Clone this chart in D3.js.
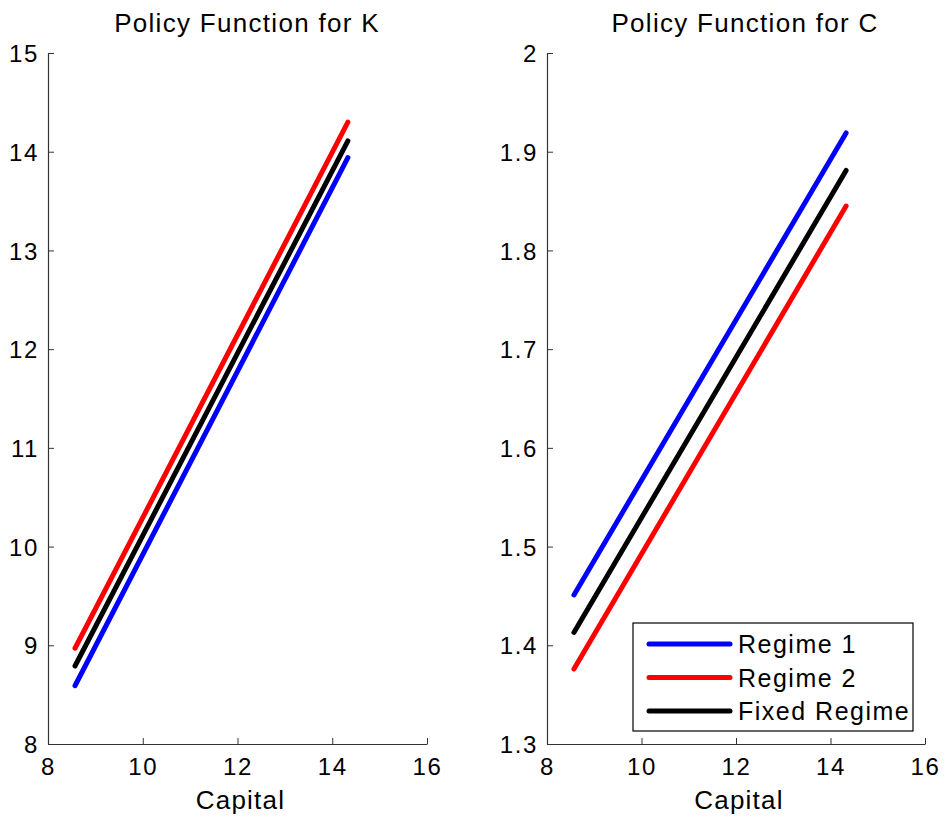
<!DOCTYPE html>
<html>
<head>
<meta charset="utf-8">
<script src="https://cdn.jsdelivr.net/npm/d3@7"></script>
<style>
  body { margin: 0; background: #fff; }
  svg text { font-family: "Liberation Sans", Arial, sans-serif; fill: #000; }
</style>
</head>
<body>
<div id="chart"></div>
<script>
// values
var capital = [8.57, 14.33];
var kRegime1 = [8.59, 13.94];
var kRegime2 = [8.97, 14.30];
var kFixed = [8.79, 14.11];
var cRegime1 = [1.451, 1.919];
var cRegime2 = [1.376, 1.845];
var cFixed = [1.413, 1.881];

var xTicks = [8, 10, 12, 14, 16];
var kTicks = [8, 9, 10, 11, 12, 13, 14, 15];
var cTicks = [1.3, 1.4, 1.5, 1.6, 1.7, 1.8, 1.9, 2];
var seriesNames = ['Regime 1', 'Regime 2', 'Fixed Regime'];
var seriesColors = ['#0000ff', '#ff0000', '#000000'];

var W = 947, H = 821;
var plotTop = 53, plotBottom = 744;

var svg = d3.select('#chart').append('svg').attr('width', W).attr('height', H);

var panels = [
  { title: 'Policy Function for K', left: 48, right: 427, titleX: 247,
    yDomain: [8, 15], yTicks: kTicks, fmt: d3.format('d'),
    series: [kRegime1, kRegime2, kFixed], legend: false },
  { title: 'Policy Function for C', left: 547, right: 925, titleX: 745,
    yDomain: [1.3, 2], yTicks: cTicks, fmt: function(d){ return d === 2 ? '2' : d3.format('.1f')(d); },
    series: [cRegime1, cRegime2, cFixed], legend: true }
];

panels.forEach(function(p){
  var x = d3.scaleLinear().domain([8, 16]).range([p.left, p.right]);
  var y = d3.scaleLinear().domain(p.yDomain).range([plotBottom, plotTop]);
  var g = svg.append('g');

  var xAxis = g.append('g')
    .attr('transform', 'translate(0,' + plotBottom + ')')
    .call(d3.axisBottom(x).tickValues(xTicks).tickSizeInner(-6).tickSizeOuter(0).tickPadding(16));
  var yAxis = g.append('g')
    .attr('transform', 'translate(' + p.left + ',0)')
    .call(d3.axisLeft(y).tickValues(p.yTicks).tickFormat(p.fmt).tickSizeInner(-6).tickSizeOuter(0).tickPadding(9));

  [xAxis, yAxis].forEach(function(a){
    a.select('.domain').attr('stroke', '#333').attr('stroke-width', 1.2);
    a.selectAll('.tick line').attr('stroke', '#333');
    a.selectAll('.tick text').attr('font-size', 24).attr('letter-spacing', 1.6)
      .attr('font-family', '"Liberation Sans", Arial, sans-serif').attr('fill', '#000');
  });
  xAxis.selectAll('.tick text').attr('dy', '0.71em').attr('y', 14);
  yAxis.selectAll('.tick text').attr('dy', '0.36em');

  g.append('text')
    .attr('x', p.titleX).attr('y', 32)
    .attr('text-anchor', 'middle')
    .attr('font-size', 26).attr('letter-spacing', 1.3)
    .text(p.title);

  g.append('text')
    .attr('x', (p.left + p.right) / 2 + 3).attr('y', 809)
    .attr('text-anchor', 'middle')
    .attr('font-size', 26).attr('letter-spacing', 1.2)
    .text('Capital');

  var line = d3.line()
    .x(function(d, i){ return x(capital[i]); })
    .y(function(d){ return y(d); });

  p.series.forEach(function(s, i){
    g.append('path')
      .datum(s)
      .attr('d', line)
      .attr('fill', 'none')
      .attr('stroke', seriesColors[i])
      .attr('stroke-width', 5)
      .attr('stroke-linecap', 'round');
  });

  if (p.legend) {
    var lg = g.append('g').attr('transform', 'translate(633,623)');
    lg.append('rect')
      .attr('width', 280).attr('height', 108)
      .attr('fill', '#fff').attr('stroke', '#000').attr('stroke-width', 1.2);
    seriesNames.forEach(function(name, i){
      var yy = 21 + i * 33.5;
      lg.append('line')
        .attr('x1', 16).attr('x2', 97).attr('y1', yy).attr('y2', yy)
        .attr('stroke', seriesColors[i]).attr('stroke-width', 5)
        .attr('stroke-linecap', 'round');
      lg.append('text')
        .attr('x', 105).attr('y', yy).attr('dy', '0.36em')
        .attr('font-size', 25).attr('letter-spacing', 1.5)
        .text(name);
    });
  }
});
</script>
</body>
</html>
